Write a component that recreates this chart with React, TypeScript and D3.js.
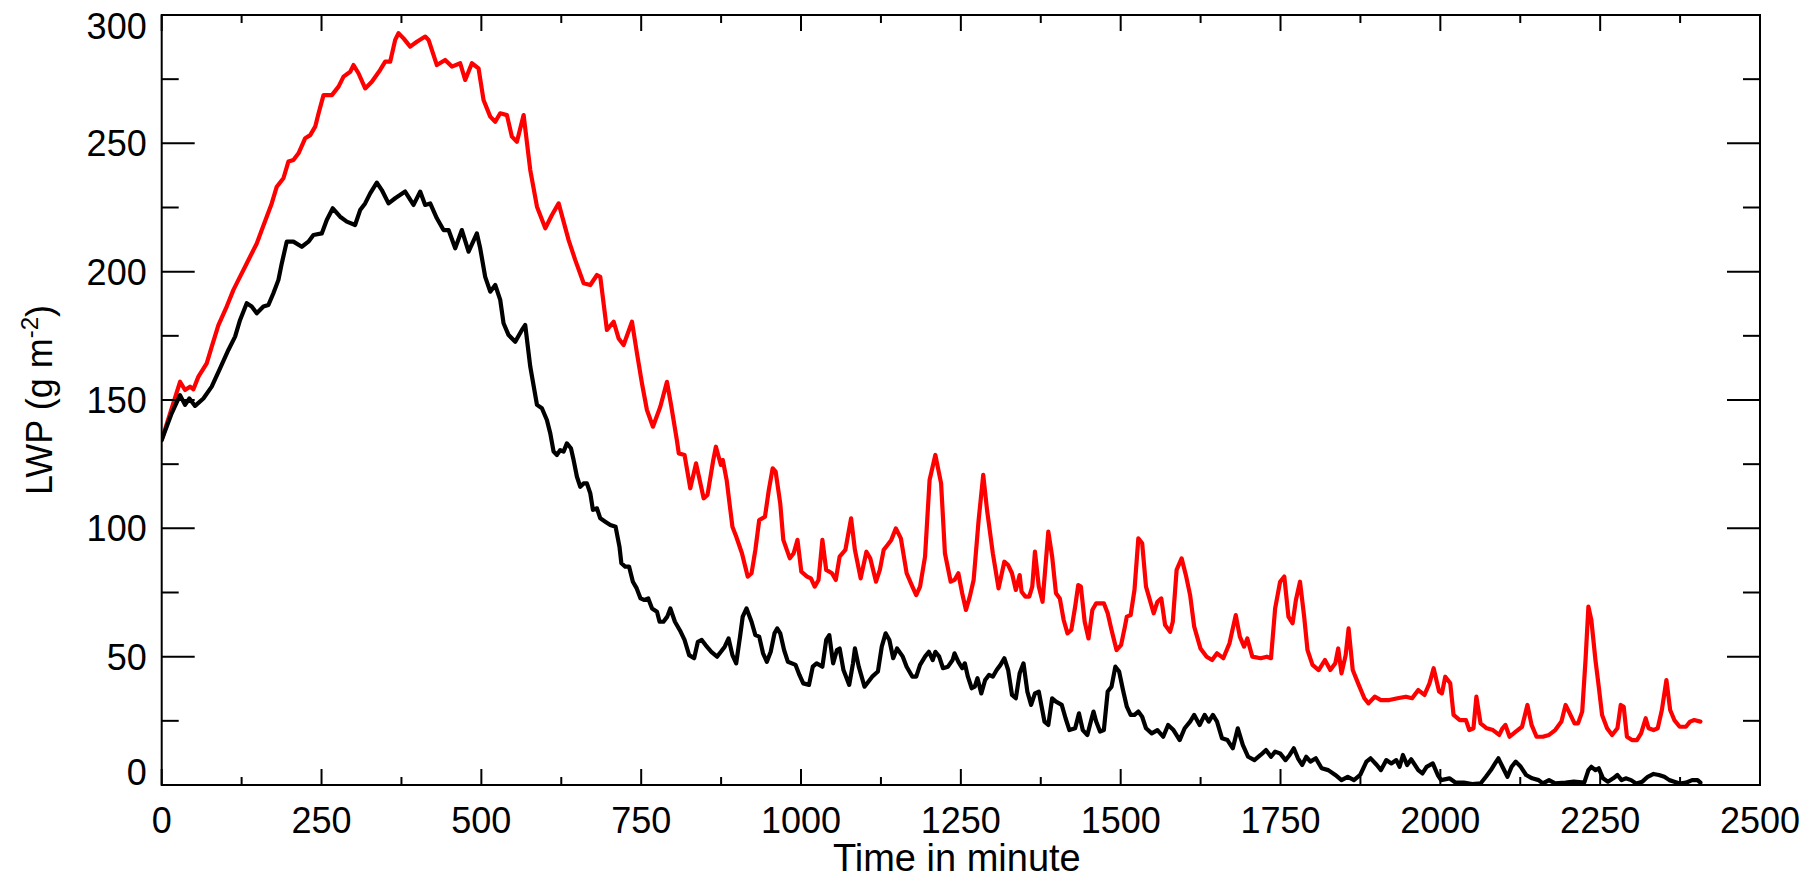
import React from "react";
import * as d3 from "d3";

// ---- Data ----
const redTime = [
  0, 28.7, 36.5, 44.3, 49.6, 57.4, 70.4, 78.3, 88.7, 101.7, 112.2, 120, 130.4, 138.2, 148.7, 156.5, 164.3, 172.1, 180, 190.4,
  198.2, 206, 214, 224.5, 232.3, 240.1, 245.4, 253.1, 266.2, 276.6, 284.4, 294.9, 300, 307.8, 318.3, 328.7, 341.7, 349.6, 357.4, 365.2,
  370.4, 378.3, 388.7, 399.1, 412.2, 417.4, 430.4, 443.4, 453.9, 466.9, 474.7, 485.2, 495.6, 503.4, 513.9, 521.7, 529.5, 540, 547.8, 555.6,
  566.1, 576.5, 587, 600, 610.4, 620.9, 636.5, 646.9, 660, 670.4, 680.8, 686, 696.4, 706.9, 714.7, 722.5, 735.6, 743.4, 751.2, 759,
  768.4, 779.9, 790.3, 796.8, 805.8, 808.8, 817.8, 826.8, 835.8, 847.7, 853.7, 862.7, 866.9, 874.7, 877.7, 883.7, 892.7, 898.6, 907.6, 916.6,
  922.6, 928.6, 934.6, 943.6, 949.6, 955.6, 960.3, 967.5, 972.3, 982.5, 988.5, 994.5, 1000.5, 1009.5, 1015.5, 1021.4, 1027.4, 1033.4, 1039.4, 1048.4,
  1054.4, 1060.4, 1069.4, 1078.3, 1084.3, 1093.3, 1102.3, 1108.3, 1117.3, 1123.3, 1129.3, 1135.3, 1141.2, 1148.4, 1156.2, 1165.2, 1174.2, 1180.2, 1186.2, 1194,
  1201.1, 1210.1, 1219.1, 1225.1, 1234.1, 1240.1, 1246.1, 1252.1, 1258, 1264, 1270, 1277.8, 1285, 1291, 1300, 1309, 1318, 1324, 1330, 1336,
  1342, 1345, 1351, 1357, 1361.7, 1365.9, 1371.9, 1377.8, 1386.8, 1392.8, 1398.8, 1404.8, 1410.8, 1416.8, 1422.8, 1428.8, 1433.6, 1437.7, 1443.7, 1449.7,
  1455.7, 1461.7, 1473.7, 1479.7, 1485.7, 1493.5, 1500.6, 1506.6, 1509.6, 1515.6, 1521.6, 1527.6, 1533.6, 1539.6, 1545.6, 1551.6, 1557.5, 1563.5, 1569.5, 1577.3,
  1581.5, 1587.5, 1595.3, 1602.5, 1608.6, 1615, 1624.8, 1634.5, 1643, 1650.7, 1660.5, 1670.2, 1680, 1686.4, 1693, 1698.1, 1705.9, 1718.9, 1728.6, 1735.1,
  1741.6, 1749.4, 1755.9, 1762.4, 1768.9, 1774.1, 1780.5, 1787, 1792.2, 1800, 1809.7, 1819.5, 1827.9, 1835.7, 1840.3, 1845.4, 1851.9, 1856.5, 1863, 1871.4,
  1881.1, 1887.6, 1897.4, 1907.1, 1920.1, 1933.1, 1946.1, 1955.8, 1965.5, 1975.2, 1983, 1989.5, 1998, 2002.5, 2007.7, 2015.5, 2020.7, 2030.4, 2040.1, 2045.3,
  2051.8, 2056.4, 2062.9, 2072.6, 2082.3, 2092.1, 2097.2, 2101.8, 2108.3, 2118, 2127.8, 2136.2, 2142.7, 2150.5, 2160.2, 2170, 2179.7, 2189.4, 2195.9, 2202.4,
  2209.9, 2215.4, 2221.9, 2227.1, 2231.6, 2236.2, 2242.6, 2247.8, 2253, 2260.8, 2268.6, 2277, 2282.2, 2286.8, 2291.9, 2299.7, 2307.5, 2314, 2321.2, 2325.7,
  2333.5, 2340, 2346.5, 2353.6, 2359.5, 2366, 2374.4, 2384.1, 2390.6, 2397.1, 2406.8,
];
const redLWP = [
  134.4, 157.1, 153.9, 155.2, 154.2, 159.1, 164.3, 170.8, 179.2, 186.4, 192.9, 196.8, 201.9, 205.8, 211, 216.2, 221.4, 226.6, 233.1, 236.4,
  242.9, 243.5, 246.1, 252, 253.2, 256.5, 261.7, 268.8, 268.8, 272.1, 276, 277.9, 280.5, 277.3, 271.4, 274, 278.6, 281.8, 281.8, 290.3,
  292.9, 290.9, 287.7, 289.6, 291.6, 290.3, 280.5, 282.5, 279.9, 281.2, 274.7, 281.2, 279.2, 266.9, 260.4, 258.4, 261.7, 261, 252.6, 250.6,
  261, 239.6, 225.3, 216.9, 222.1, 226.6, 212.3, 204.5, 195.5, 194.8, 198.7, 198, 177.3, 180.5, 174, 171.4, 180.5, 168.2, 156.5, 146.1,
  139.6, 147.4, 157.1, 148, 134.4, 129.2, 128.6, 115.6, 125.3, 111.7, 113, 126.6, 131.8, 124.7, 126.6, 118.8, 100.6, 96.8, 90.3, 81.2,
  82.5, 91.6, 103.2, 104.5, 114.9, 123.4, 122.1, 109.7, 95.5, 88.3, 90.3, 95.5, 83.1, 81.2, 80.5, 77.3, 79.9, 95.5, 83.8, 82.5,
  79.9, 89, 91.6, 103.9, 91.6, 80.5, 90.9, 88.3, 79.2, 83.8, 91.6, 93.5, 95.5, 100, 96.1, 82.5, 77.3, 74, 77.3, 89,
  118.8, 128.6, 117.5, 90.3, 79.2, 79.9, 82.5, 74.7, 68.2, 73.4, 79.9, 103.2, 120.8, 107.1, 90.3, 76.6, 87, 85.7, 82.5, 76,
  81.8, 75.3, 73.4, 73.4, 77.3, 90.9, 77.3, 71.4, 98.7, 89, 74.7, 72.7, 64.3, 59.1, 60.4, 69.5, 77.9, 77.3, 63.6, 57.1,
  68.2, 70.8, 70.8, 66.9, 60.4, 52.6, 54.5, 61.7, 65.6, 66.2, 76, 96.1, 94.2, 77.3, 72.1, 66.9, 71.4, 72.7, 62.3, 59.7,
  63.6, 83.8, 88.3, 81.2, 74, 61.7, 53.2, 50, 48.7, 51.3, 49.4, 55.2, 66.2, 57.8, 53.9, 57.1, 50, 49.4, 50, 49.4,
  68.8, 79.2, 81.2, 65.6, 63, 72.1, 79.2, 65.6, 52.6, 46.8, 44.8, 48.7, 44.8, 47.4, 53.2, 43.5, 50.6, 61, 44.8, 39.6,
  33.8, 31.8, 34.4, 33.1, 33.1, 33.8, 34.4, 33.8, 37, 35.1, 39.6, 45.5, 36.4, 35.7, 42.2, 39.6, 27.3, 25.3, 25.3, 21.4,
  22.1, 34.4, 24, 22.1, 21.4, 19.5, 22.1, 23.4, 18.8, 20.8, 22.7, 31.2, 23.4, 18.8, 18.8, 19.5, 21.4, 24.7, 31.2, 27.9,
  24, 24, 28.6, 48.7, 69.5, 64.3, 48.7, 38.3, 27.3, 22.1, 19.5, 22.1, 31.2, 30.5, 18.8, 17.5, 17.5, 20.1, 26, 22.1,
  21.4, 22.1, 29.2, 40.9, 29.2, 25.3, 22.7, 22.7, 24.7, 25.3, 24.7,
];

const blackTime = [
  0, 15.6, 28.7, 36.5, 43.3, 52.2, 65.2, 78.2, 91.3, 104.3, 114.8, 122.6, 133, 140.8, 148.7, 159.1, 166.9, 174.7, 182.6, 187.8,
  195.6, 206, 219.1, 229.5, 237.3, 250.4, 258.2, 267.6, 279.1, 289.5, 302.5, 310.4, 318.2, 326.1, 336.5, 344.3, 354.8, 365.2, 380.8, 393.9,
  404.3, 412.1, 420, 430.4, 440.8, 448.7, 459.1, 469.5, 480, 493, 498.2, 506, 513.9, 521.7, 529.5, 534.7, 542.6, 553, 563.4, 568.6,
  576.5, 587, 594.7, 602.5, 607.8, 613, 618.2, 623.4, 628.6, 633.8, 640.1, 644.3, 649.5, 654.7, 659.9, 665.1, 670.4, 674.5, 680.8, 686,
  693.8, 701.7, 710, 716, 719, 725, 731, 737, 743, 749, 755, 761, 767, 774.7, 778.8, 784.8, 790.8, 795.6, 802.8, 811.8,
  817.8, 825, 832.8, 838.7, 844.7, 850.7, 859.7, 868.7, 874.7, 880.7, 886.7, 892.7, 898.6, 904.6, 908.8, 914.8, 922.6, 928.6, 934.6, 940.6,
  946.6, 952.6, 958.5, 962.7, 967.5, 973.5, 979.5, 991.5, 997.5, 1003.5, 1012.5, 1018.4, 1024.4, 1033.4, 1039.4, 1044.2, 1050.2, 1056.2, 1060.4, 1066.4,
  1075.4, 1081.3, 1084.3, 1090.3, 1099.3, 1111.3, 1120.3, 1126.3, 1132.3, 1138.2, 1144.2, 1150.2, 1159.2, 1165.2, 1174.2, 1180.2, 1186.2, 1194, 1200, 1206,
  1210.1, 1216.1, 1222.1, 1229.9, 1237.1, 1240.1, 1246.1, 1252.1, 1256.2, 1261, 1267, 1271.8, 1276, 1282, 1288, 1294, 1300, 1306, 1312, 1318,
  1324, 1330, 1336, 1342, 1348, 1354, 1359.9, 1365.9, 1371.9, 1380.8, 1386.8, 1392.8, 1398.8, 1407.8, 1413.8, 1419.8, 1428.8, 1434.8, 1440.7, 1447.9,
  1453.9, 1457.5, 1461.7, 1467.7, 1473.7, 1479.7, 1485.7, 1491.7, 1497.6, 1503.6, 1509.6, 1515.6, 1521.6, 1527.6, 1533.6, 1539.6, 1548.6, 1557.5, 1566.5, 1574.2,
  1582.6, 1592.3, 1600.1, 1608.6, 1615, 1623.5, 1631.3, 1637.8, 1644.3, 1650.7, 1658.5, 1667, 1675.4, 1683.2, 1691, 1699.4, 1709.2, 1718.9, 1727.3, 1735.1,
  1741.6, 1749.4, 1757.8, 1764.3, 1770.8, 1777.3, 1783.8, 1790.3, 1796.8, 1805.2, 1814.3, 1824.7, 1835.7, 1845.4, 1855.2, 1864.9, 1874.6, 1884.4, 1890.9, 1900.6,
  1907.1, 1915.5, 1923.3, 1931.1, 1936.3, 1941.5, 1948, 1954.5, 1965.5, 1972, 1978.5, 1988.2, 1996, 2001.2, 2014.2, 2024, 2036.9, 2049.9, 2062.9, 2071.3,
  2079.1, 2085.6, 2090.8, 2097.2, 2105, 2111.5, 2118, 2125.8, 2134.2, 2143.6, 2153.7, 2160.2, 2170, 2179.7, 2195.9, 2208.9, 2225.1, 2231.6, 2236.2, 2242.6,
  2247.8, 2254.4, 2262.1, 2270.5, 2277, 2283.5, 2290, 2298.4, 2306.2, 2316, 2324.4, 2333.5, 2341.9, 2350.4, 2358.2, 2366, 2374.4, 2384.1, 2393.8, 2402.3,
  2406.8,
];
const blackLWP = [
  134.4, 144.8, 151.9, 148.1, 150.6, 147.7, 150.6, 155.2, 162.3, 169.5, 174.7, 181.2, 187.7, 186.4, 183.8, 186.4, 187, 191.6, 196.8, 203.2,
  211.7, 211.7, 209.7, 211.7, 214.3, 214.9, 220.1, 224.7, 221.4, 219.5, 218.2, 224, 226.6, 230.5, 234.7, 231.8, 226.6, 228.6, 231.2, 226,
  231.2, 226, 226.6, 220.8, 216.2, 216.2, 209.1, 216.2, 207.8, 214.9, 209.1, 198, 192.2, 194.8, 189, 179.9, 175.3, 172.7, 177.3, 179.2,
  163, 148.1, 146.8, 142.2, 137, 129.9, 128.6, 130.5, 129.9, 133.1, 131.2, 126.6, 120.1, 116.2, 117.5, 117.5, 113.6, 107.2, 107.8, 103.9,
  102.6, 101.3, 100.6, 92.9, 86.4, 85.1, 85.1, 79.2, 76.6, 72.7, 72.1, 72.7, 68.8, 67.5, 63.6, 63.6, 65.6, 68.8, 63.6, 59.7,
  56.5, 50.6, 49.4, 55.8, 56.5, 54.5, 51.9, 50, 51.9, 53.9, 57.1, 50.6, 47.4, 57.8, 65.6, 68.8, 63.6, 58.4, 57.8, 51.3,
  48, 51.9, 59.1, 61, 59.1, 52.6, 48, 46.8, 42.9, 39.6, 39, 46.1, 47.4, 46.1, 56.5, 58.4, 47.4, 52.6, 53.2, 44.8,
  39, 47.4, 53.2, 46.1, 38.3, 42.2, 44.2, 53.9, 59.1, 56.5, 49.4, 53.2, 50, 46.1, 42.2, 42.2, 46.8, 50, 51.9, 48.7,
  51.9, 50, 45.5, 46.1, 48.7, 51.3, 48, 45.5, 47.4, 42.2, 37.7, 38.3, 41.6, 35.7, 40.9, 42.9, 42.2, 44.8, 46.8, 49.4,
  44.8, 35.1, 33.8, 43.5, 47.4, 36.4, 31.2, 35.7, 36.4, 24.7, 23.4, 33.8, 32.5, 31.2, 26, 21.4, 22.1, 27.9, 21.4, 19.5,
  25.3, 28.6, 24.7, 20.8, 21.4, 36.4, 38.3, 46.1, 44.2, 37, 30.5, 27.3, 27.3, 28.6, 26.6, 22.1, 20.1, 21.4, 18.8, 23.4,
  21.4, 17.5, 22.1, 24.7, 27.3, 23.4, 27.3, 24.7, 27.3, 24.7, 18.2, 17.5, 14.3, 22.1, 15.6, 11, 9.7, 11.7, 13.6, 11,
  13, 12.3, 9.7, 11.7, 14.3, 10.4, 7.8, 11, 9.1, 10.4, 6.5, 5.8, 3.9, 1.9, 3.2, 1.9, 3.9, 9.1, 10.4, 7.8,
  5.8, 9.7, 8.4, 9.7, 7.1, 11.7, 7.8, 10, 5.8, 4.5, 7.1, 8.4, 3.9, 1.9, 2.6, 0.9, 0.9, 0.4, 0.6, 3.2,
  5.8, 8.4, 10.4, 7.1, 3.2, 7.1, 9.1, 7.1, 3.9, 2.6, 1.9, 0.6, 1.9, 0.6, 0.9, 1.3, 0.9, 5.8, 7.1, 5.8,
  6.5, 2.6, 1.3, 2.6, 3.9, 1.9, 2.6, 1.9, 0.6, 1.3, 3.2, 4.3, 3.9, 3.2, 1.9, 1.3, 0.6, 0.9, 1.9, 1.9,
  0.9,
];

const xMajorTicks = [0, 250, 500, 750, 1000, 1250, 1500, 1750, 2000, 2250, 2500];
const xMinorTicks = [125, 375, 625, 875, 1125, 1375, 1625, 1875, 2125, 2375];
const yMajorTicks = [0, 50, 100, 150, 200, 250, 300];
const yMinorTicks = [25, 75, 125, 175, 225, 275];

const xTitle = "Time in minute";

export default function App() {
  const W = 1818;
  const H = 879;
  const left = 161.7;
  const right = 1760;
  const top = 15;
  const bottom = 785;

  const x = d3.scaleLinear().domain([0, 2500]).range([left, right]);
  const y = d3.scaleLinear().domain([0, 300]).range([bottom, top]);

  const makePath = (ts: number[], vs: number[]) =>
    d3
      .line<[number, number]>()
      .x((d) => x(d[0]))
      .y((d) => y(d[1]))(ts.map((t, i) => [t, vs[i]] as [number, number])) || "";

  const font = "'Liberation Sans', Arial, Helvetica, sans-serif";
  const tickFont = 36;

  const yLabelBaseline = (v: number) => {
    if (v === 300) return y(v) + 23.5;
    if (v === 0) return y(v);
    return y(v) + 12.9;
  };

  return (
    <svg
      width={W}
      height={H}
      style={{ position: "absolute", left: 0, top: 0, background: "#fff" }}
      xmlns="http://www.w3.org/2000/svg"
    >
      <rect x={0} y={0} width={W} height={H} fill="#fff" />
      <defs>
        <clipPath id="plotClip">
          <rect x={left} y={top} width={right - left} height={bottom - top} />
        </clipPath>
      </defs>

      <g clipPath="url(#plotClip)" fill="none" strokeLinejoin="round" strokeLinecap="round">
        <path d={makePath(redTime, redLWP)} stroke="#ff0000" strokeWidth={4.2} />
        <path d={makePath(blackTime, blackLWP)} stroke="#000000" strokeWidth={4.2} />
      </g>

      {/* frame */}
      <rect x={left} y={top} width={right - left} height={bottom - top} fill="none" stroke="#000" strokeWidth={2} />

      {/* ticks on all four sides */}
      <g stroke="#000" strokeWidth={2}>
        {xMajorTicks.map((t) => (
          <g key={"xM" + t}>
            <line x1={x(t)} x2={x(t)} y1={bottom} y2={bottom - 16} />
            <line x1={x(t)} x2={x(t)} y1={top} y2={top + 16} />
          </g>
        ))}
        {xMinorTicks.map((t) => (
          <g key={"xm" + t}>
            <line x1={x(t)} x2={x(t)} y1={bottom} y2={bottom - 8} />
            <line x1={x(t)} x2={x(t)} y1={top} y2={top + 8} />
          </g>
        ))}
        {yMajorTicks.map((t) => (
          <g key={"yM" + t}>
            <line x1={left} x2={left + 33} y1={y(t)} y2={y(t)} />
            <line x1={right} x2={right - 33} y1={y(t)} y2={y(t)} />
          </g>
        ))}
        {yMinorTicks.map((t) => (
          <g key={"ym" + t}>
            <line x1={left} x2={left + 17} y1={y(t)} y2={y(t)} />
            <line x1={right} x2={right - 17} y1={y(t)} y2={y(t)} />
          </g>
        ))}
      </g>

      {/* tick labels */}
      <g fontFamily={font} fontSize={tickFont} fill="#000">
        {xMajorTicks.map((t) => (
          <text key={"xl" + t} x={x(t)} y={833} textAnchor="middle">
            {t}
          </text>
        ))}
        {yMajorTicks.map((t) => (
          <text key={"yl" + t} x={left - 15} y={yLabelBaseline(t)} textAnchor="end">
            {t}
          </text>
        ))}
      </g>

      {/* axis titles */}
      <text x={(left + right) / 2 - 4} y={871} textAnchor="middle" fontFamily={font} fontSize={38} fill="#000">
        {xTitle}
      </text>
      <text
        transform={`translate(52, ${(top + bottom) / 2}) rotate(-90)`}
        textAnchor="middle"
        fontFamily={font}
        fontSize={36}
        fill="#000"
      >
        LWP (g m
        <tspan dy={-14} fontSize={24}>
          -2
        </tspan>
        <tspan dy={14}>)</tspan>
      </text>
    </svg>
  );
}
